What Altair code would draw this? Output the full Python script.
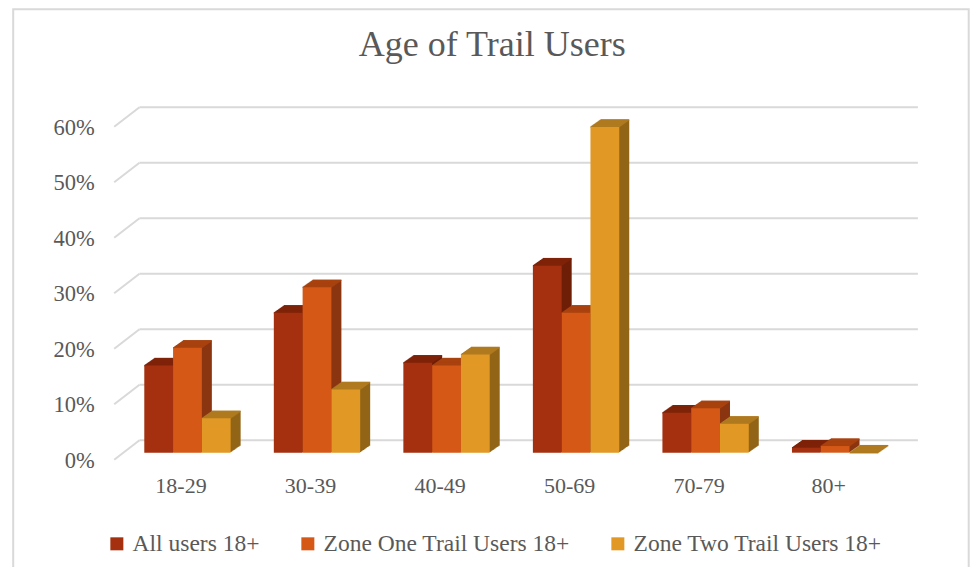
import json
import altair as alt
import pandas as pd

# ---------------- data ----------------
categories = ["18-29", "30-39", "40-49", "50-69", "70-79", "80+"]
series_names = ["All users 18+", "Zone One Trail Users 18+", "Zone Two Trail Users 18+"]
all_users = [15.7, 25.2, 16.2, 33.7, 7.2, 0.9]
zone_one = [18.9, 29.8, 15.7, 25.2, 8.0, 1.2]
zone_two = [6.2, 11.4, 17.7, 58.7, 5.2, 0.0]
y_ticks = [0.0, 0.1, 0.2, 0.3, 0.4, 0.5, 0.6]

front_colors = ["#A5300F", "#D55816", "#E19825"]
side_colors = ["#6E1D07", "#8A3510", "#926516"]
top_colors = ["#7E2309", "#A8420F", "#B07A20"]

rows = []
for j, vals in enumerate([all_users, zone_one, zone_two]):
    for i, v in enumerate(vals):
        rows.append({"cat": categories[i], "ci": i, "series": series_names[j], "sj": j, "value": v / 100})
df = pd.DataFrame(rows)
ticks_df = pd.DataFrame({"t": y_ticks})
frame_df = pd.DataFrame({"a": [0]})

# ---------------- style ----------------
FONT = "Liberation Serif"
TXT = "#595959"
GRID = "#D9D9D9"
W, H = 777.2, 333
BW = (2 / 3) / 3          # bar width in category steps
DEPTH = 10                # px of 3D extrusion
SLOPE = 0.7

xscale = alt.Scale(domain=[-0.5, 5.5], nice=False, zero=False)
yscale = alt.Scale(domain=[0, 0.6], nice=False, zero=True)

xaxis = alt.Axis(
    values=list(range(len(categories))),
    labelExpr=json.dumps(categories) + "[datum.value]",
    title=None, grid=False, domain=False, ticks=False,
    labelPadding=23, labelOffset=-7, labelFlush=False, labelOverlap=False,
    labelFont=FONT, labelFontSize=22, labelColor=TXT,
)
yaxis = alt.Axis(
    values=y_ticks, format=".0%",
    title=None, grid=False, domain=False, ticks=False,
    labelPadding=28.4, labelOffset=7.5,
    labelFont=FONT, labelFontSize=22.5, labelColor=TXT,
)

base = alt.Chart(df).transform_calculate(
    x1=f"datum.ci + (datum.sj - 1.5) * {BW}",
    x2=f"datum.ci + (datum.sj - 0.5) * {BW}",
)

def enc_bar(ch):
    return ch.encode(
        x=alt.X("x1:Q", scale=xscale, axis=xaxis),
        x2="x2:Q",
        y=alt.Y("value:Q", scale=yscale, axis=yaxis),
        y2=alt.datum(0),
    )

layers = []

# outer frame
layers.append(
    alt.Chart(frame_df).mark_rect(filled=False, stroke=GRID, strokeWidth=2).encode(
        x=alt.value(-109.5), x2=alt.value(846), y=alt.value(-110.5), y2=alt.value(470)
    )
)
# back wall gridlines
layers.append(
    alt.Chart(ticks_df).mark_rule(color=GRID, strokeWidth=2, yOffset=-12.4).encode(
        x=alt.value(16.8), x2=alt.value(795.2),
        y=alt.Y("t:Q", scale=yscale, axis=yaxis),
    )
)
# side wall gridlines (diagonal)
layers.append(
    alt.Chart(ticks_df).mark_rule(color=GRID, strokeWidth=2, yOffset=7, y2Offset=-12.4).encode(
        x=alt.value(-8.5), x2=alt.value(16.8),
        y=alt.Y("t:Q", scale=yscale, axis=yaxis), y2="t:Q",
    )
)

legend = alt.Legend(
    orient="none", legendX=-17.6, legendY=412, direction="horizontal", title=None,
    symbolType="square", symbolSize=169, symbolStrokeWidth=0, symbolOpacity=1,
    labelFont=FONT, labelFontSize=23.5, labelColor=TXT, labelLimit=500,
    columnPadding=36, labelOffset=4, padding=0,
)

for j in range(3):
    b = base.transform_filter(alt.datum.sj == j)
    # side / extrusion
    for k in range(1, DEPTH + 1):
        layers.append(
            enc_bar(b.mark_bar(color=side_colors[j], xOffset=k, x2Offset=k,
                               yOffset=-SLOPE * k, y2Offset=-SLOPE * k))
        )
    # top face
    for k in range(0, DEPTH + 1):
        layers.append(
            b.mark_rule(color=top_colors[j], strokeWidth=1.5, xOffset=k, x2Offset=k,
                        yOffset=-SLOPE * k, y2Offset=-SLOPE * k).encode(
                x=alt.X("x1:Q", scale=xscale, axis=xaxis),
                x2="x2:Q",
                y=alt.Y("value:Q", scale=yscale, axis=yaxis),
                y2="value:Q",
            )
        )
    # front face
    layers.append(
        enc_bar(b.mark_bar()).encode(
            color=alt.Color("series:N", scale=alt.Scale(domain=series_names, range=front_colors),
                            legend=legend)
        )
    )

chart = alt.layer(*layers).properties(
    width=W, height=H,
    title=alt.TitleParams(
        "Age of Trail Users", font=FONT, fontSize=36, fontWeight="normal", color=TXT,
        anchor="middle", dx=-19, offset=-56,
    ),
    autosize=alt.AutoSizeParams(type="none"),
    padding={"left": 114.7, "top": 111.7, "right": 70.1, "bottom": 114.3},
    background="white",
).configure_view(stroke=None)

chart.save("out.html", embed_options={"renderer": "svg", "actions": False})
